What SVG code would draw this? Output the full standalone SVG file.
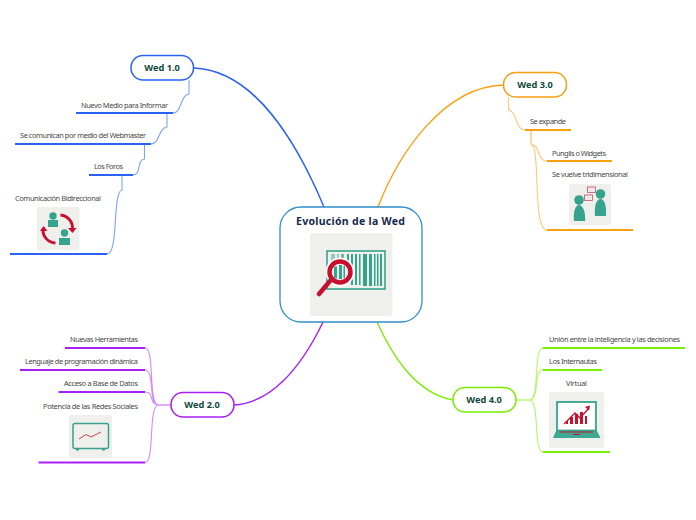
<svg xmlns="http://www.w3.org/2000/svg" width="696" height="520" viewBox="0 0 696 520">
<style>
text{font-family:"Noto Sans","Open Sans","DejaVu Sans",sans-serif}
.l{font-size:7.4px;fill:#484848}
.t{font-size:9.200px;font-weight:700;fill:#10483c;text-anchor:middle}
.n{fill:#fff;stroke-width:1.5}
.m{fill:none;stroke-width:1.400}
.s{fill:none;stroke-width:1.100}
.u{fill:none;stroke-width:2}
.b{stroke:#2962f5}.bs{stroke:#7fa2fa}
.o{stroke:#fb9f12}.os{stroke:#fdc878}
.p{stroke:#a81ff5}.ps{stroke:#cf8bfa}
.g{stroke:#78ee00}.gs{stroke:#b4f56e}
.bg{fill:#efefec}
.te{fill:#35a38d}.re{fill:#c8102e}
</style>
<rect width="696" height="520" fill="#fff"/>
<g id="connectors">
<path class="m b" d="M193.500 68C255 70 298 145 324 207"/>
<path class="m o" d="M503 85C445 87 400 150 378 207"/>
<path class="m p" d="M234 405C270 403 300 370 323 322"/>
<path class="m g" d="M453 400C415 393 392 355 377 322"/>
<path class="s bs" d="M189 80V94C180 95 182 113 173 113"/>
<path class="s bs" d="M167 113V127C158 128 160 144 151 144"/>
<path class="s bs" d="M144.500 144V159C136 160 142 175 133 175"/>
<path class="s bs" d="M122 175V190C112 192 119 254 107 254"/>
<path class="u b" d="M76 113H173M15 144H151M89 175H133M10 254H107"/>
<path class="s os" d="M508.500 97V110C518 112 515 130 525 130"/>
<path class="s os" d="M531 144C541 146 537 161 547 161M531 144C541 146 532 230 547 230"/>
<path class="m os" d="M531 130V144"/>
<path class="u o" d="M525 130H571M547 161H612M547 230H633"/>
<path class="m ps" d="M171 405H158"/>
<path class="s ps" d="M158 405C148 403 155 348 145 348M158 405C148 403 155 370 145 370M158 405C148 403 155 392 145 392M158 405C148 407 155 462.500 145 462.500"/>
<path class="u p" d="M65 348H145M20 370H145M58.500 392H145M38.500 462.500H145"/>
<path class="m gs" d="M516 400H530"/>
<path class="s gs" d="M530 400C540 398 533 348 543 348M530 400C540 398 533 370 543 370M530 400C540 402 533 452 543 452"/>
<path class="u g" d="M543 348H685M543 370H602M543 452H610"/>
</g>
<g id="central">
<rect x="280" y="207" width="142" height="115" rx="21" fill="#fff" stroke="#2f8fc9" stroke-width="1.300"/>
<text x="350.500" y="225" text-anchor="middle" font-size="10.500" font-weight="700" fill="#16294d" textLength="109">Evolución de la Wed</text>
<rect class="bg" x="310" y="233" width="82.500" height="83" rx="3"/>
<rect x="327" y="251" width="58" height="38" fill="none" stroke="#35a38d" stroke-width="1.600"/>
<g class="te"><rect x="331" y="254" width="4" height="17" opacity=".5"/><rect x="337" y="254" width="2" height="17" opacity=".5"/><rect x="341" y="254" width="3" height="15" opacity=".7"/><rect x="347" y="254" width="2" height="15"/><rect x="351" y="254" width="2" height="31"/><rect x="355" y="254" width="2" height="31"/><rect x="359" y="254" width="1.500" height="31"/><rect x="363" y="254" width="4" height="32"/><rect x="369" y="254" width="3" height="32"/><rect x="374" y="254" width="1.500" height="32"/><rect x="377" y="254" width="1.500" height="32"/><rect x="380" y="254" width="2" height="32"/></g>
<circle cx="340" cy="272" r="14.500" fill="#fff"/>
<circle cx="340" cy="272" r="10.500" fill="#efefec" stroke="#c8102e" stroke-width="4.500"/>
<path d="M334 266.500h3v12h-3zM339 265h3v14h-3zM343.500 266h1.500v12h-1.500z" class="te"/>
<path d="M330 281L319 294" stroke="#c8102e" stroke-width="4.500" stroke-linecap="round"/>
</g>
<g id="wed1"><rect class="n b" x="131" y="55.500" width="62.500" height="24.500" rx="12"/><text class="t" x="162" y="71">Wed 1.0</text></g>
<g id="wed3"><rect class="n o" x="503.500" y="72.500" width="63" height="24.500" rx="12"/><text class="t" x="535" y="88">Wed 3.0</text></g>
<g id="wed2"><rect class="n p" x="171" y="392.500" width="63" height="24.500" rx="12"/><text class="t" x="202" y="408">Wed 2.0</text></g>
<g id="wed4"><rect class="n g" x="453" y="387.500" width="63" height="24.500" rx="12"/><text class="t" x="484" y="403">Wed 4.0</text></g>
<g id="n-medio"><text class="l" x="81" y="108" textLength="87">Nuevo Medio para Informar</text></g>
<g id="n-webmaster"><text class="l" x="20" y="138" textLength="126">Se comunican por medio del Webmaster</text></g>
<g id="n-foros"><text class="l" x="94" y="169" textLength="29">Los Foros</text></g>
<g id="n-bidireccional"><text class="l" x="15" y="201" textLength="86">Comunicación Bidireccional</text>
<rect class="bg" x="37" y="207" width="42.500" height="43" rx="2"/>
<circle class="te" cx="53" cy="216" r="3.700"/><path class="te" d="M48 220h10v7H48z"/>
<circle class="te" cx="64.500" cy="233" r="3.700"/><path class="te" d="M59 238h11v7H59z"/>
<path d="M60.500 215A13 13 0 0 1 72.500 229M55.500 243A13 13 0 0 1 43 229" fill="none" stroke="#c8102e" stroke-width="2.800"/>
<path class="re" d="M68 228h8.500l-4 5zM40 231l3.500-5 4 5z"/></g>
<g id="n-expande"><text class="l" x="530" y="124" textLength="36">Se expande</text></g>
<g id="n-widgets"><text class="l" x="552" y="155.500" textLength="54">Punglis o Widgets</text></g>
<g id="n-tridimensional"><text class="l" x="552" y="177" textLength="76">Se vuelve tridimensional</text>
<rect class="bg" x="569" y="184" width="42" height="41" rx="2"/>
<circle class="te" cx="579" cy="200" r="4.800"/><path class="te" d="M574 221C573 213 575 205 579 205C583 205 586 213 585 221z"/>
<circle class="te" cx="600.500" cy="194" r="4.800"/><path class="te" d="M595 216C594 207 596 199 600.500 199C605 199 606.500 207 606 216z"/>
<g fill="#f4e9ea" stroke="#c8506a" stroke-width=".8"><rect x="587.500" y="187" width="8" height="5.500"/><rect x="584.500" y="195" width="8" height="5.500"/></g></g>
<g id="n-herr"><text class="l" x="70" y="342" textLength="68">Nuevas Herramientas</text></g>
<g id="n-lenguaje"><text class="l" x="25" y="364" textLength="113">Lenguaje de programación dinámica</text></g>
<g id="n-acceso"><text class="l" x="64" y="386" textLength="74">Acceso a Base de Datos</text></g>
<g id="n-redes"><text class="l" x="43" y="408.500" textLength="95">Potencia de las Redes Sociales</text>
<rect class="bg" x="69" y="415" width="43" height="43" rx="2"/>
<rect x="73" y="423.500" width="35.500" height="25" rx="2" fill="none" stroke="#35a38d" stroke-width="1.500"/>
<path class="te" d="M76 449h3v1.500h-3zM102 449h3v1.500h-3z"/>
<path d="M79 439L86 434.500L91 437L101 432" fill="none" stroke="#c8102e" stroke-width=".8"/></g>
<g id="n-union"><text class="l" x="549" y="342" textLength="131">Unión entre la inteligencia y las decisiones</text></g>
<g id="n-internautas"><text class="l" x="549" y="364" textLength="48">Los Internautas</text></g>
<g id="n-virtual"><text class="l" x="566" y="386" textLength="21">Virtual</text>
<rect class="bg" x="549" y="392" width="55" height="56" rx="2"/>
<rect x="557" y="402" width="39" height="28.500" fill="#fff" stroke="#35a38d" stroke-width="1.800"/>
<path class="te" d="M556 431h41l3.500 7H553z" opacity=".95"/>
<path class="re" d="M560 431.500h33v1h-33zM573 434h7v1h-7z"/>
<path class="re" d="M566 424h2v-3h-2zM570 424h3v-7h-3zM575 424h3v-10h-3zM580 424h3v-12h-3zM585 424h2v-8h-2z"/>
<path d="M564 424L575 413L580 418L589 408" fill="none" stroke="#c8102e" stroke-width="1.300"/>
<path class="re" d="M585 407l5-1.500-1 5z"/></g>
</svg>
